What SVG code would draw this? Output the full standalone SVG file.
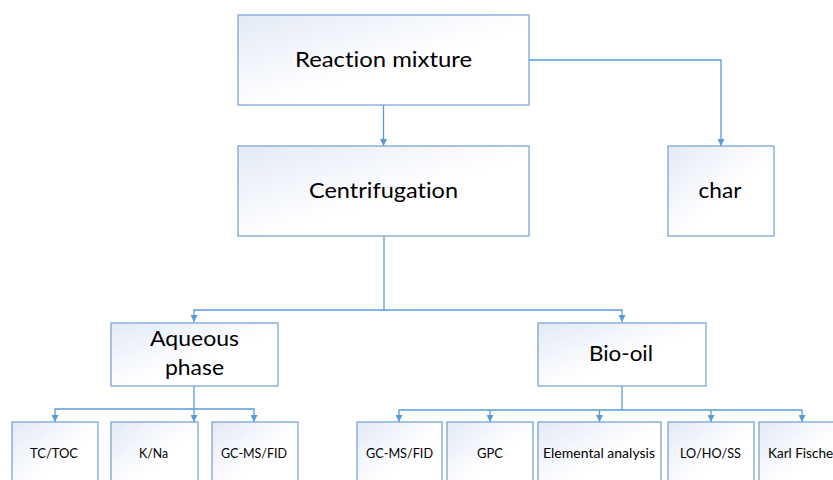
<svg xmlns="http://www.w3.org/2000/svg" width="833" height="480" viewBox="0 0 833 480">
<defs>
<linearGradient id="g" x1="0" y1="0" x2="1" y2="1">
<stop offset="0" stop-color="#e3eaf6"/>
<stop offset="0.55" stop-color="#ffffff"/>
<stop offset="1" stop-color="#ffffff"/>
</linearGradient>
<marker id="a" viewBox="0 0 10 10" refX="10" refY="5" markerWidth="7" markerHeight="7" markerUnits="userSpaceOnUse" orient="auto">
<path d="M0,0 L10,5 L0,10 z" fill="#5b9bd5"/>
</marker>
<style>
.box{fill:url(#g);stroke:#7aa6d8;stroke-width:1.3}
.t{font-family:Lato,"Open Sans","Liberation Sans",sans-serif;fill:#000;text-anchor:middle;font-variant-ligatures:none}
.big{font-size:21px}
.sm{font-size:13px}
.c{fill:none;stroke:#5b9bd5;stroke-width:1.3}
</style>
</defs>
<rect width="833" height="480" fill="#fff"/>
<g id="connectors">
<path class="c" d="M383.5,105 V146" marker-end="url(#a)"/>
<path class="c" d="M529,60 H721 V146" marker-end="url(#a)"/>
<path class="c" d="M384,236 V310"/>
<path class="c" d="M384,310 H194 V322" marker-end="url(#a)"/>
<path class="c" d="M384,310 H622 V322" marker-end="url(#a)"/>
<path class="c" d="M194,386 V409"/>
<path class="c" d="M194,409 H55 V422" marker-end="url(#a)"/>
<path class="c" d="M194,409 V422" marker-end="url(#a)"/>
<path class="c" d="M194,409 H254 V422" marker-end="url(#a)"/>
<path class="c" d="M622,386 V410"/>
<path class="c" d="M622,410 H399 V422" marker-end="url(#a)"/>
<path class="c" d="M490,410 V422" marker-end="url(#a)"/>
<path class="c" d="M599.5,410 V422" marker-end="url(#a)"/>
<path class="c" d="M622,410 H802 V422" marker-end="url(#a)"/>
<path class="c" d="M711,410 V422" marker-end="url(#a)"/>
</g>
<g id="reaction">
<rect class="box" x="238" y="15" width="291" height="90"/>
<text class="t big" x="383.5" y="67" textLength="177" lengthAdjust="spacingAndGlyphs">Reaction mixture</text>
</g>
<g id="centrifugation">
<rect class="box" x="238" y="146" width="291" height="90"/>
<text class="t big" x="383.5" y="198" textLength="149" lengthAdjust="spacingAndGlyphs">Centrifugation</text>
</g>
<g id="char">
<rect class="box" x="668" y="146" width="106" height="90"/>
<text class="t big" x="720" y="198" textLength="43" lengthAdjust="spacingAndGlyphs">char</text>
</g>
<g id="aqueous">
<rect class="box" x="111" y="323" width="167" height="63"/>
<text class="t big" x="194.5" y="346" textLength="89" lengthAdjust="spacingAndGlyphs">Aqueous</text>
<text class="t big" x="194.5" y="375" textLength="59" lengthAdjust="spacingAndGlyphs">phase</text>
</g>
<g id="biooil">
<rect class="box" x="538" y="323" width="168" height="63"/>
<text class="t big" x="621" y="361" textLength="64" lengthAdjust="spacingAndGlyphs">Bio-oil</text>
</g>
<g id="tctoc">
<rect class="box" x="12" y="422" width="86" height="70"/>
<text class="t sm" x="54" y="458" textLength="48" lengthAdjust="spacingAndGlyphs">TC/TOC</text>
</g>
<g id="kna">
<rect class="box" x="111" y="422" width="87" height="70"/>
<text class="t sm" x="153.5" y="458" textLength="29" lengthAdjust="spacingAndGlyphs">K/Na</text>
</g>
<g id="gcms1">
<rect class="box" x="212" y="422" width="86" height="70"/>
<text class="t sm" x="254" y="458" textLength="66" lengthAdjust="spacingAndGlyphs">GC-MS/FID</text>
</g>
<g id="gcms2">
<rect class="box" x="357" y="422" width="85" height="70"/>
<text class="t sm" x="399.5" y="458" textLength="67" lengthAdjust="spacingAndGlyphs">GC-MS/FID</text>
</g>
<g id="gpc">
<rect class="box" x="447" y="422" width="86" height="70"/>
<text class="t sm" x="490" y="458" textLength="26" lengthAdjust="spacingAndGlyphs">GPC</text>
</g>
<g id="elemental">
<rect class="box" x="538" y="422" width="123" height="70"/>
<text class="t sm" x="599" y="458" textLength="112" lengthAdjust="spacingAndGlyphs">Elemental analysis</text>
</g>
<g id="lohoss">
<rect class="box" x="668" y="422" width="86" height="70"/>
<text class="t sm" x="710.5" y="458" textLength="61" lengthAdjust="spacingAndGlyphs">LO/HO/SS</text>
</g>
<g id="karl">
<rect class="box" x="759" y="422" width="86" height="70"/>
<text class="t sm" x="768" y="458" style="text-anchor:start" textLength="70" lengthAdjust="spacingAndGlyphs">Karl Fischer</text>
</g>
</svg>
